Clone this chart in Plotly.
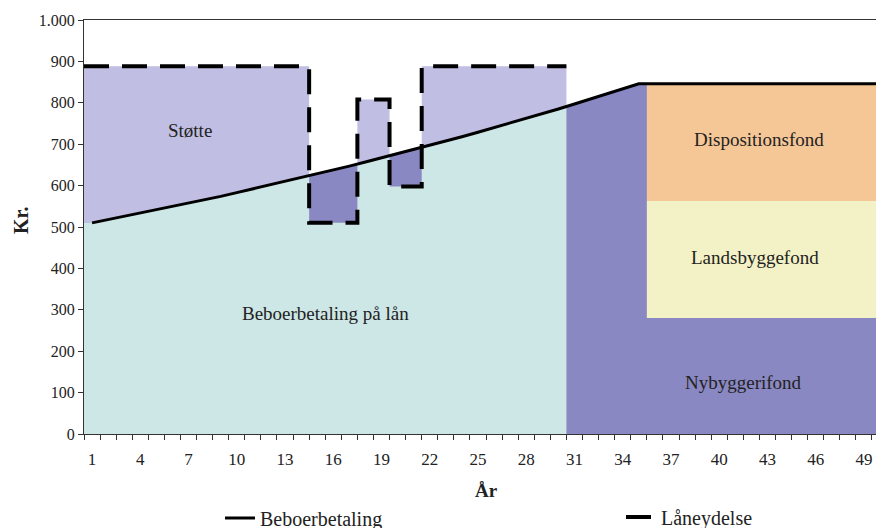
import numpy as np
import plotly.graph_objects as go

# Annual resident payment (kr.) for years 1-50
years = list(range(1, 51))
beboerbetaling = [510, 518, 525, 533, 541, 549, 558, 566, 574, 583,
                  592, 601, 610, 619, 628, 638, 647, 657, 667, 677,
                  687, 697, 708, 718, 729, 740, 751, 762, 774, 785,
                  797, 809, 821, 834, 846, 846, 846, 846, 846, 846,
                  846, 846, 846, 846, 846, 846, 846, 846, 846, 846]

# Loan payment for the 30-year loan period
laan_years = list(range(1, 31))
laaneydelse = [888, 888, 888, 888, 888, 888, 888, 888, 888, 888,
               888, 888, 888, 888, 510, 510, 510, 808, 808, 598,
               598, 888, 888, 888, 888, 888, 888, 888, 888, 888]

# Split of the payment once the loan is repaid
fond_years = list(range(36, 51))
nybyggerifond = [280] * 15
landsbyggefond = [283] * 15

y_ticks = [0, 100, 200, 300, 400, 500, 600, 700, 800, 900, 1000]
y_ticktext = ["0", "100", "200", "300", "400", "500", "600", "700", "800", "900", "1.000"]
x_ticks = list(range(1, 51, 3))

C_STOTTE = "#C0BEE2"
C_LAAN = "#CDE6E6"
C_NYBYG = "#8A88C2"
C_LANDS = "#F3F2C6"
C_DISP = "#F5C696"
TXT = "#222222"
FONT = "Liberation Serif"


def line_at(x):
    return np.interp(x, years, beboerbetaling)


# Loan payment as a step outline
step_x, step_y = [], []
for yr, v in zip(laan_years, laaneydelse):
    step_x += [yr - 0.5, yr + 0.5]
    step_y += [v, v]

fig = go.Figure()


def area(x, y, color):
    fig.add_trace(go.Scatter(x=list(x), y=list(y), fill="toself", fillcolor=color,
                             mode="lines", line=dict(width=0), hoverinfo="skip",
                             showlegend=False))


# Støtte: everything under the loan payment (later covered below the line)
area([step_x[0]] + step_x + [step_x[-1]], [0] + step_y + [0], C_STOTTE)

# Surplus / Nybyggerifond: everything under the resident payment
xs = np.linspace(0.5, 50.5, 2001)
area([0.5] + list(xs) + [50.5], [0] + list(line_at(xs)) + [0], C_NYBYG)

# Beboerbetaling på lån: below both the payment and the loan payment
tx, ty = [], []
for yr, v in zip(laan_years, laaneydelse):
    cx = np.linspace(yr - 0.5, yr + 0.5, 41)
    tx += list(cx)
    ty += list(np.minimum(line_at(cx), v))
area([0.5] + tx + [30.5], [0] + ty + [0], C_LAAN)

# Landsbyggefond band and Dispositionsfond on top
x0, x1 = fond_years[0] - 0.5, fond_years[-1] + 0.5
lo = nybyggerifond[0]
hi = nybyggerifond[0] + landsbyggefond[0]
area([x0, x1, x1, x0], [lo, lo, hi, hi], C_LANDS)
dx = np.linspace(x0, x1, 200)
area([x0] + list(dx) + [x1], [hi] + list(line_at(dx)) + [hi], C_DISP)

fig.add_trace(go.Scatter(x=years, y=beboerbetaling, mode="lines", name="Beboerbetaling",
                         line=dict(color="black", width=3), legend="legend"))
fig.add_trace(go.Scatter(x=step_x, y=step_y, mode="lines", name="Låneydelse",
                         line=dict(color="black", width=4, dash="25px,13px"),
                         legend="legend2"))

labels = [
    ("Støtte", 7.1, 734),
    ("Beboerbetaling på lån", 15.5, 292),
    ("Dispositionsfond", 42.5, 712),
    ("Landsbyggefond", 42.2, 426),
    ("Nybyggerifond", 41.5, 124),
]
for t, x, y in labels:
    fig.add_annotation(x=x, y=y, text=t, showarrow=False,
                       font=dict(family=FONT, size=19, color=TXT))

fig.add_annotation(xref="paper", yref="paper", x=(486 - 84) / 792, y=(434 - 490) / 414,
                   xanchor="center", yanchor="middle",
                   text="<b>År</b>", showarrow=False,
                   font=dict(family=FONT, size=19, color=TXT))
fig.add_annotation(xref="paper", yref="paper", x=(21 - 84) / 792, y=(434 - 220) / 414,
                   xanchor="center", yanchor="middle",
                   text="<b>Kr.</b>", showarrow=False, textangle=-90,
                   font=dict(family=FONT, size=20, color=TXT))

fig.update_layout(
    width=876, height=528,
    margin=dict(l=84, r=0, t=20, b=94),
    plot_bgcolor="white", paper_bgcolor="white",
    font=dict(family=FONT, size=16, color=TXT),
    legend=dict(xref="paper", yref="container", x=(220 - 84) / 792, y=(528 - 518) / 528,
                xanchor="left", yanchor="middle", bgcolor="rgba(0,0,0,0)",
                font=dict(family=FONT, size=20, color=TXT)),
    legend2=dict(xref="paper", yref="container", x=(621 - 84) / 792, y=(528 - 517) / 528,
                 xanchor="left", yanchor="middle", bgcolor="rgba(0,0,0,0)",
                 font=dict(family=FONT, size=20, color=TXT)),
    xaxis=dict(range=[0.5, 49.75], tickvals=x_ticks, ticks="outside", ticklen=10,
               tickcolor="rgba(0,0,0,0)", showgrid=False, zeroline=False,
               showline=True, linecolor="#333", linewidth=1, mirror=True,
               tickfont=dict(family=FONT, size=17, color=TXT),
               minor=dict(tickvals=[v + 0.5 for v in range(0, 51)], ticks="outside",
                          ticklen=5, tickcolor="#333", showgrid=False)),
    yaxis=dict(range=[0, 1000], tickvals=y_ticks, ticktext=y_ticktext, ticks="outside",
               ticklen=5, tickcolor="#333", showgrid=False, zeroline=False,
               showline=True, linecolor="#333", linewidth=1,
               tickfont=dict(family=FONT, size=16, color=TXT)),
)

fig.write_html("out.html")
